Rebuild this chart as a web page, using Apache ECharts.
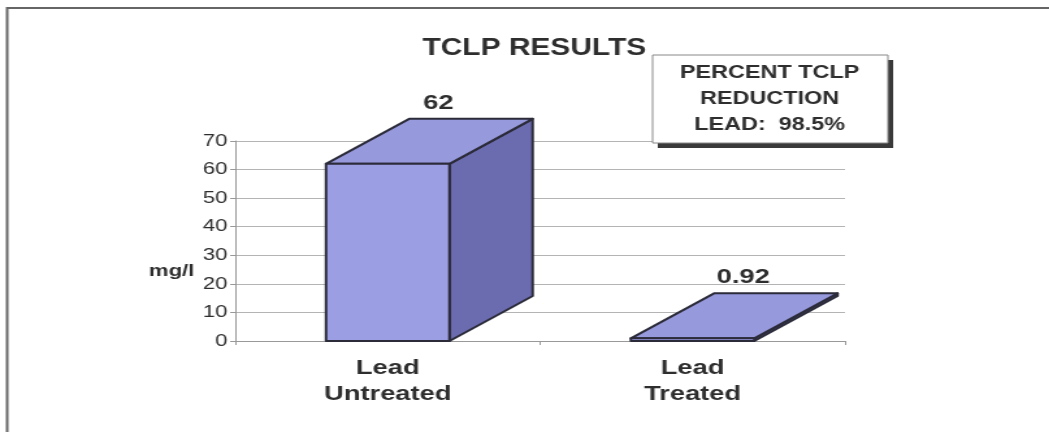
<!DOCTYPE html>
<html>
<head>
<meta charset="utf-8">
<title>TCLP RESULTS</title>
<script src="https://cdn.jsdelivr.net/npm/echarts@6/dist/echarts.min.js"></script>
<style>
  html, body { margin: 0; padding: 0; background: #fff; overflow: hidden; }
  /* the scanned original is stretched sideways, so the chart is too */
  #chart { width: 807px; height: 432px; transform: scaleX(1.3); transform-origin: 0 0; }
</style>
</head>
<body>
<div id="chart"></div>
<script>
/*
 * TCLP results, lead untreated vs treated (mg/l)
 */
var categories = ['Lead\nUntreated', 'Lead\nTreated'];
var tclpValues = [62, 0.92];
var yMin = 0;
var yMax = 70;
var yStep = 10;
var yName = 'mg/l';
var chartTitle = 'TCLP RESULTS';
var noteLines = ['PERCENT TCLP', 'REDUCTION', 'LEAD:  98.5%'];

var FONT = '"Liberation Sans", Arial, sans-serif';
var TEXT = '#2e2e2e';

// one box-shaped bar: front face, right side and top
function renderBox(params, api) {
  var i = api.value(0);
  var v = api.value(1);
  var top = api.coord([i, v]);
  var base = api.coord([i, 0]);
  var w = api.size([1, 0])[0] * 0.405;
  var x0 = top[0] - w / 2;
  var x1 = top[0] + w / 2;
  var y0 = top[1];
  var y1 = base[1];
  var dx = 64;
  var dy = -45;
  var edge = { stroke: '#2b2b3a', lineWidth: 2, lineJoin: 'round' };
  return {
    type: 'group',
    children: [
      {
        type: 'polygon',
        shape: { points: [[x1, y1], [x1 + dx, y1 + dy], [x1 + dx, y0 + dy], [x1, y0]] },
        style: Object.assign({ fill: '#6b6caf' }, edge)
      },
      {
        type: 'polygon',
        shape: { points: [[x0, y0], [x0 + dx, y0 + dy], [x1 + dx, y0 + dy], [x1, y0]] },
        style: Object.assign({ fill: '#9799dd' }, edge)
      },
      {
        type: 'rect',
        shape: { x: x0, y: y0, width: w, height: y1 - y0 },
        style: Object.assign({ fill: '#9c9ee4' }, edge)
      },
      {
        type: 'text',
        style: {
          text: String(v),
          x: top[0] + 39,
          y: y0 + dy - 16,
          align: 'center',
          verticalAlign: 'middle',
          fontSize: 21,
          fontWeight: 'bold',
          fontFamily: FONT,
          fill: TEXT
        }
      }
    ]
  };
}

var options = {
  backgroundColor: '#fff',
  animation: false,
  grid: { left: 181, top: 141, width: 469, height: 200 },
  xAxis: {
    type: 'category',
    data: categories,
    boundaryGap: true,
    axisLine: { lineStyle: { color: '#999', width: 1 } },
    axisTick: { show: true, length: 4, lineStyle: { color: '#999' } },
    axisLabel: {
      margin: 14,
      fontSize: 21,
      lineHeight: 26,
      fontWeight: 'bold',
      fontFamily: FONT,
      color: TEXT
    }
  },
  yAxis: {
    type: 'value',
    min: yMin,
    max: yMax,
    interval: yStep,
    axisLine: { show: true, lineStyle: { color: '#999', width: 1 } },
    axisTick: { show: true, length: 4, lineStyle: { color: '#999' } },
    axisLabel: { margin: 6, fontSize: 17, fontFamily: FONT, color: TEXT },
    splitLine: { show: true, lineStyle: { color: '#b4b4b4', width: 1 } }
  },
  series: [
    {
      type: 'custom',
      renderItem: renderBox,
      encode: { x: 0, y: 1 },
      data: tclpValues.map(function (v, i) { return [i, v]; })
    }
  ],
  graphic: [
    // page frame, right edge runs off the picture
    {
      type: 'rect',
      silent: true,
      shape: { x: 5.5, y: 8, width: 810, height: 440 },
      style: { fill: 'none', stroke: '#666', lineWidth: 2 }
    },
    {
      type: 'text',
      style: {
        text: chartTitle,
        x: 411,
        y: 49,
        align: 'center',
        verticalAlign: 'middle',
        fontSize: 23,
        fontWeight: 'bold',
        fontFamily: FONT,
        fill: TEXT
      }
    },
    {
      type: 'text',
      style: {
        text: yName,
        x: 132,
        y: 271,
        align: 'center',
        verticalAlign: 'middle',
        fontSize: 17,
        fontWeight: 'bold',
        fontFamily: FONT,
        fill: TEXT
      }
    },
    // note box with drop shadow
    {
      type: 'rect',
      shape: { x: 506, y: 60, width: 181, height: 88 },
      style: { fill: '#3a3a3a' },
      z: 10
    },
    {
      type: 'rect',
      shape: { x: 502, y: 55, width: 181, height: 88 },
      style: { fill: '#fff', stroke: '#888', lineWidth: 1 },
      z: 11
    },
    {
      type: 'text',
      z: 12,
      style: {
        text: noteLines.join('\n'),
        x: 592,
        y: 99,
        align: 'center',
        verticalAlign: 'middle',
        lineHeight: 26,
        fontSize: 18,
        fontWeight: 'bold',
        fontFamily: FONT,
        fill: TEXT
      }
    }
  ]
};

var myEchart = echarts.init(document.getElementById('chart'));
myEchart.setOption(options);
</script>
</body>
</html>
